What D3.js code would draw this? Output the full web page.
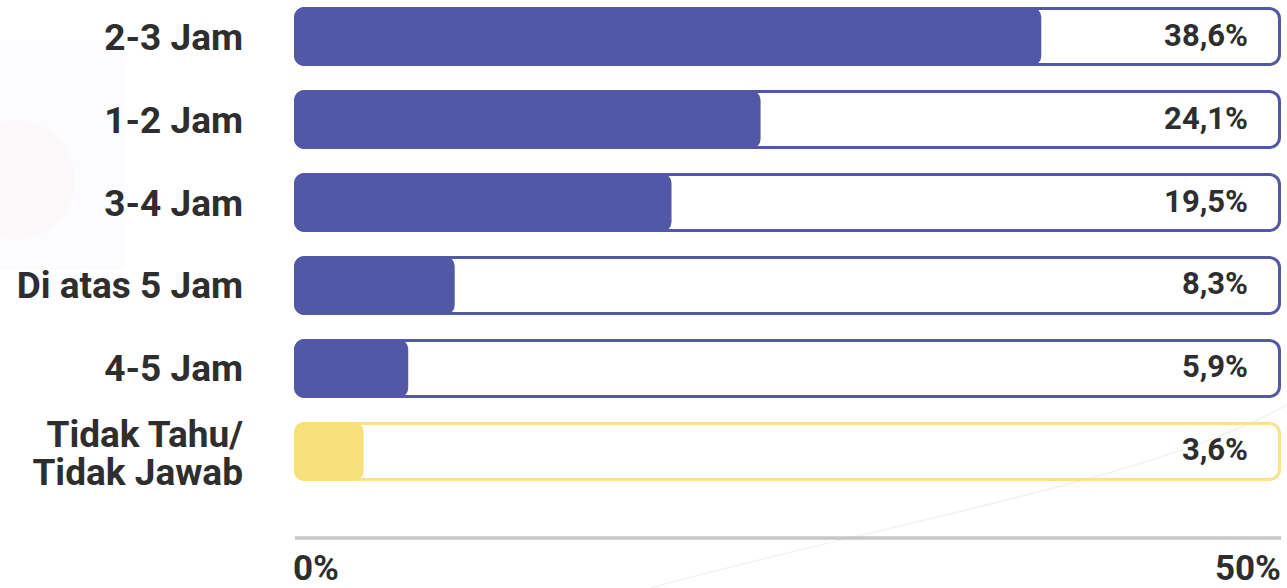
<!DOCTYPE html>
<html>
<head>
<meta charset="utf-8">
<script src="https://cdn.jsdelivr.net/npm/d3@7"></script>
<style>
  html, body { margin: 0; padding: 0; background: #ffffff; }
  svg { display: block; }
  text { font-family: Roboto, "Noto Sans", sans-serif; }
</style>
</head>
<body>
<svg id="chart" width="1287" height="588"></svg>
<script>
// Durations (categories), shares in percent, and the axis tick labels
const categories = ["2-3 Jam", "1-2 Jam", "3-4 Jam", "Di atas 5 Jam", "4-5 Jam", "Tidak Tahu/\nTidak Jawab"];
const values = [38.6, 24.1, 19.5, 8.3, 5.9, 3.6];
const highlight = [false, false, false, false, false, true];
const tickValues = [0, 50];
const tickLabels = ["0%", "50%"];

const svg = d3.select("#chart");

const plotLeft = 294, plotRight = 1281;
const x = d3.scaleLinear().domain([0, 50]).range([plotLeft, 1262]);
const y = d3.scaleBand().domain(categories).range([7, 481]).paddingInner(0.289).paddingOuter(0);

const BLUE = "#5358a6", YELLOW = "#f7df7b", YELLOW_LINE = "#fbe18a", INK = "#2e2e2e";
const rows = categories.map((c, i) => ({ c, v: values[i], hi: highlight[i] }));
const fmt = v => d3.format(".1f")(v).replace(".", ",") + "%";

// Faint background shapes of the brand mark
const wm = svg.append("g").attr("pointer-events", "none");
wm.append("rect").attr("x", 0).attr("y", 40).attr("width", 125).attr("height", 230)
  .attr("fill", "#5358a6").attr("opacity", 0.015);
wm.append("circle").attr("cx", 15).attr("cy", 180).attr("r", 60)
  .attr("fill", "#e03a3a").attr("opacity", 0.02);
wm.append("path")
  .attr("d", "M650,588 C900,520 1150,480 1287,405")
  .attr("fill", "none").attr("stroke", "#aaaaaa").attr("stroke-width", 1.5).attr("opacity", 0.15);

// Track outlines
svg.append("g").selectAll("rect").data(rows).join("rect")
  .attr("x", plotLeft + 1.5)
  .attr("y", d => y(d.c) + 1.5)
  .attr("width", plotRight - plotLeft - 3)
  .attr("height", y.bandwidth() - 3)
  .attr("rx", 10)
  .attr("fill", "none")
  .attr("stroke", d => d.hi ? YELLOW_LINE : BLUE)
  .attr("stroke-width", 3);

// Filled value bars
svg.append("g").selectAll("rect").data(rows).join("rect")
  .attr("x", x(0))
  .attr("y", d => y(d.c))
  .attr("width", d => x(d.v) - x(0))
  .attr("height", y.bandwidth())
  .attr("rx", 10)
  .attr("fill", d => d.hi ? YELLOW : BLUE);

// Value labels inside the tracks
svg.append("g").selectAll("text").data(rows).join("text")
  .attr("x", 1248)
  .attr("y", d => y(d.c) + y.bandwidth() / 2 + 9)
  .attr("text-anchor", "end")
  .attr("font-size", 31)
  .attr("font-weight", 700)
  .attr("fill", INK)
  .text(d => fmt(d.v));

// Category labels (multi-line where needed)
const lab = svg.append("g").selectAll("text").data(rows).join("text")
  .attr("text-anchor", "end")
  .attr("font-size", 37)
  .attr("font-weight", 700)
  .attr("fill", INK);
lab.each(function(d) {
  const lines = d.c.split("\n");
  const cy = y(d.c) + y.bandwidth() / 2;
  const t = d3.select(this);
  if (lines.length === 1) {
    t.append("tspan").attr("x", 243).attr("y", cy + 13).text(lines[0]);
  } else {
    lines.forEach((ln, k) => {
      t.append("tspan").attr("x", 243).attr("y", cy - 4.5 + k * 38).text(ln);
    });
  }
});

// Bottom axis line and tick labels
const axisY = 538;
svg.append("line")
  .attr("x1", plotLeft + 1).attr("x2", plotRight)
  .attr("y1", axisY).attr("y2", axisY)
  .attr("stroke", "#c6c6c6").attr("stroke-width", 3.5);

svg.append("g").selectAll("text").data(tickValues).join("text")
  .attr("x", (d, i) => i === 0 ? x(d) - 1 : plotRight)
  .attr("y", 580)
  .attr("text-anchor", (d, i) => i === 0 ? "start" : "end")
  .attr("font-size", 35)
  .attr("font-weight", 700)
  .attr("fill", INK)
  .text((d, i) => tickLabels[i]);
</script>
</body>
</html>
